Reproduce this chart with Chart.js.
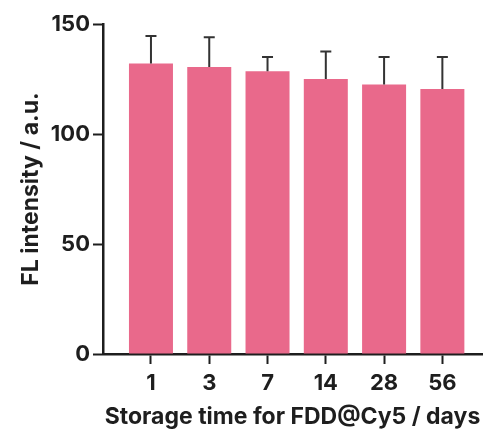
<!DOCTYPE html>
<html>
<head>
<meta charset="utf-8">
<script src="https://cdn.jsdelivr.net/npm/chart.js@4.4.1/dist/chart.umd.min.js"></script>
<style>
  html, body { margin: 0; padding: 0; background: #fff; }
  #wrap { width: 494px; height: 435px; }
</style>
</head>
<body>
<div id="wrap"><canvas id="chart" width="494" height="435"></canvas></div>
<script>
// storage time (days) and fluorescence intensity
const days = ['1', '3', '7', '14', '28', '56'];
const intensity = [132, 130.5, 128.5, 125, 122.5, 120.5];
const errUp = [12.5, 13.5, 6.5, 12.5, 12.5, 14.5];
const yMax = 150;
const yStep = 50;

const barColor = '#E9698B';
const inkColor = '#1e1e1e';
const fontFamily = 'Inter, "Liberation Sans", Arial, sans-serif';

// upper error bars drawn from the y scale
const errorBars = {
    id: 'errorBars',
    afterDatasetsDraw(chart) {
        const ctx = chart.ctx;
        const y = chart.scales.y;
        const meta = chart.getDatasetMeta(0);
        ctx.save();
        ctx.strokeStyle = '#333';
        ctx.lineWidth = 2;
        meta.data.forEach((bar, i) => {
            const top = y.getPixelForValue(intensity[i] + errUp[i]);
            const base = y.getPixelForValue(intensity[i]);
            ctx.beginPath();
            ctx.moveTo(bar.x, base);
            ctx.lineTo(bar.x, top);
            ctx.moveTo(bar.x - 5.5, top);
            ctx.lineTo(bar.x + 5.5, top);
            ctx.stroke();
        });
        ctx.restore();
    }
};

const titleFont = { family: fontFamily, size: 23, weight: 'bold' };
const tickFont = { family: fontFamily, size: 22, weight: 'bold' };

const ctx = document.getElementById('chart').getContext('2d');
const chart = new Chart(ctx, {
    type: 'bar',
    data: {
        datasets: [{
            data: days.map((d, i) => ({ x: i, y: intensity[i] })),
            backgroundColor: barColor,
            borderWidth: 0,
            barPercentage: 0.755,
            categoryPercentage: 1
        }]
    },
    options: {
        responsive: false,
        animation: false,
        layout: { padding: { top: 24, right: 12, left: 0, bottom: 0 } },
        plugins: { legend: { display: false }, tooltip: { enabled: false } },
        scales: {
            x: {
                type: 'linear',
                offset: false,
                min: -0.823,
                max: 5.68,
                afterBuildTicks: (scale) => { scale.ticks = days.map((d, i) => ({ value: i })); },
                afterFit: (scale) => { scale.height = 81; },
                grid: { offset: false, drawOnChartArea: false, drawTicks: true, tickLength: 10, tickWidth: 2, color: inkColor },
                border: { display: true, color: inkColor, width: 2.5 },
                ticks: {
                    autoSkip: false,
                    maxRotation: 0,
                    padding: 6,
                    color: inkColor,
                    font: tickFont,
                    callback: (v) => days[v]
                },
                title: {
                    display: true,
                    text: 'Storage time for FDD@Cy5 / days',
                    color: inkColor,
                    font: titleFont,
                    padding: { top: 0, bottom: 4 }
                }
            },
            y: {
                min: 0,
                max: yMax,
                afterFit: (scale) => { scale.width = 103; },
                grid: { drawOnChartArea: false, drawTicks: true, tickLength: 10, tickWidth: 2, color: inkColor },
                border: { display: true, color: inkColor, width: 2.5 },
                ticks: {
                    stepSize: yStep,
                    padding: 3,
                    color: inkColor,
                    font: tickFont
                },
                title: {
                    display: true,
                    text: 'FL intensity / a.u.',
                    color: inkColor,
                    font: titleFont,
                    padding: { top: 17, bottom: 0 }
                }
            }
        }
    },
    plugins: [errorBars]
});
</script>
</body>
</html>
